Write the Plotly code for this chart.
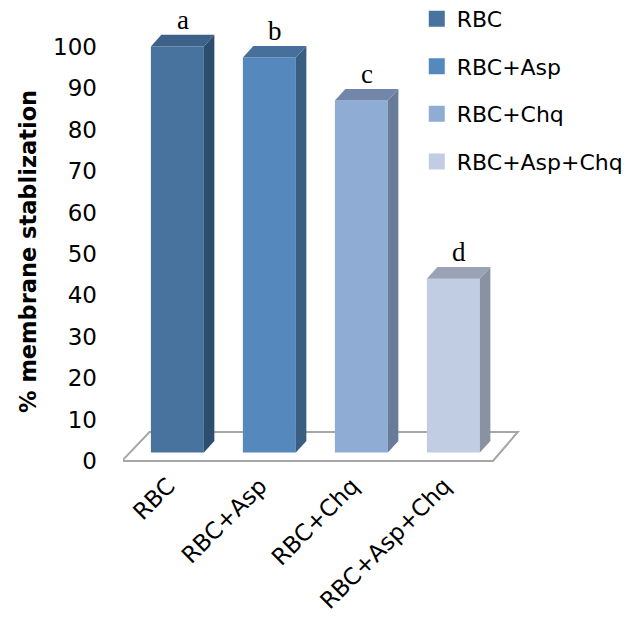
import plotly.graph_objects as go

# ---- data ----
categories = ["RBC", "RBC+Asp", "RBC+Chq", "RBC+Asp+Chq"]
values = [98.1, 95.4, 85.0, 42.0]
letters = ["a", "b", "c", "d"]
front_colors = ["#48739F", "#5589BE", "#8FADD4", "#C0CDE3"]
side_colors = ["#2D4D6E", "#3A5D82", "#687C99", "#8A91A3"]
top_colors = ["#3E6189", "#476F9B", "#7186A8", "#9AA2B5"]
y_ticks = [0, 10, 20, 30, 40, 50, 60, 70, 80, 90, 100]

# ---- 3D look parameters (in axis units) ----
bar_w = 0.576
base = 2.05      # front face sits a little behind the front floor edge
dx = 0.114       # depth offset (x units)
dy = 2.78        # depth offset (y units)
floor_dx = 0.30
floor_dy = 7.0
x_left = -0.603
x_right = 3.43
label_shift = 0.1   # rotated category labels sit a bit left of the bar centre

FONT = "DejaVu Sans"

fig = go.Figure()

# floor + left wall lines (decoration)
grey = dict(color="#A6A6A6", width=2)
fig.add_shape(type="path",
              path=f"M {x_left},0 L {x_right},0 L {x_right+floor_dx*0.9},{floor_dy} "
                   f"L {x_left+floor_dx},{floor_dy} Z",
              xref="x", yref="y", line=grey, layer="below")
fig.add_shape(type="line", x0=x_left, x1=x_left, y0=0, y1=100,
              xref="x", yref="y", line=grey, layer="below")

for i, (cat, v) in enumerate(zip(categories, values)):
    xl = i - bar_w / 2
    xr = i + bar_w / 2
    # front face
    fig.add_trace(go.Bar(x=[i], y=[v], base=base, width=bar_w,
                         marker=dict(color=front_colors[i], line=dict(width=0)),
                         showlegend=False, hoverinfo="skip"))
    # side face
    fig.add_trace(go.Scatter(
        x=[xr, xr + dx, xr + dx, xr, xr],
        y=[base, base + dy, base + v + dy, base + v, base],
        fill="toself", fillcolor=side_colors[i], mode="lines",
        line=dict(width=0, color=side_colors[i]), showlegend=False, hoverinfo="skip"))
    # top face
    fig.add_trace(go.Scatter(
        x=[xl, xr, xr + dx, xl + dx, xl],
        y=[base + v, base + v, base + v + dy, base + v + dy, base + v],
        fill="toself", fillcolor=top_colors[i], mode="lines",
        line=dict(width=0, color=top_colors[i]), showlegend=False, hoverinfo="skip"))
    # letter
    fig.add_annotation(x=i + dx / 2, y=base + v + dy, text=letters[i],
                       showarrow=False, yanchor="bottom", yshift=-2,
                       font=dict(family="Liberation Serif", size=27, color="black"))

# legend entries
for i, cat in enumerate(categories):
    fig.add_trace(go.Scatter(x=[None], y=[None], mode="markers", name=cat,
                             legendgroup=cat,
                             marker=dict(symbol="square", size=16, color=front_colors[i])))

fig.add_annotation(text="<b>% membrane stablization</b>", textangle=-90,
                   xref="paper", yref="paper", x=(20 - 115) / 397, y=(462 - 244) / 462,
                   xanchor="center", yanchor="middle", showarrow=False,
                   font=dict(family=FONT, size=22.5, color="black"))

fig.update_layout(
    width=629, height=616,
    margin=dict(l=115, r=117, t=0, b=154, autoexpand=False),
    paper_bgcolor="white", plot_bgcolor="white",
    barmode="overlay",
    font=dict(family=FONT, color="black"),
    showlegend=True,
    legend=dict(x=0.74, y=1.022, xanchor="left", yanchor="top",
                font=dict(family=FONT, size=22, color="black"),
                tracegroupgap=16, bgcolor="rgba(0,0,0,0)"),
    xaxis=dict(range=[-0.591, 3.724],
               tickvals=[k - label_shift for k in range(len(categories))],
               ticktext=categories, tickangle=-45, showgrid=False, zeroline=False,
               showline=False, ticks="", ticklabelstandoff=-3, automargin=False,
               tickfont=dict(family=FONT, size=23, color="black")),
    yaxis=dict(range=[-2.174, 109.42], tickvals=y_ticks, showgrid=False,
               zeroline=False, showline=False, ticks="", ticklabelstandoff=25,
               automargin=False,
               tickfont=dict(family=FONT, size=23, color="black")),
)

fig.write_html("out.html")
